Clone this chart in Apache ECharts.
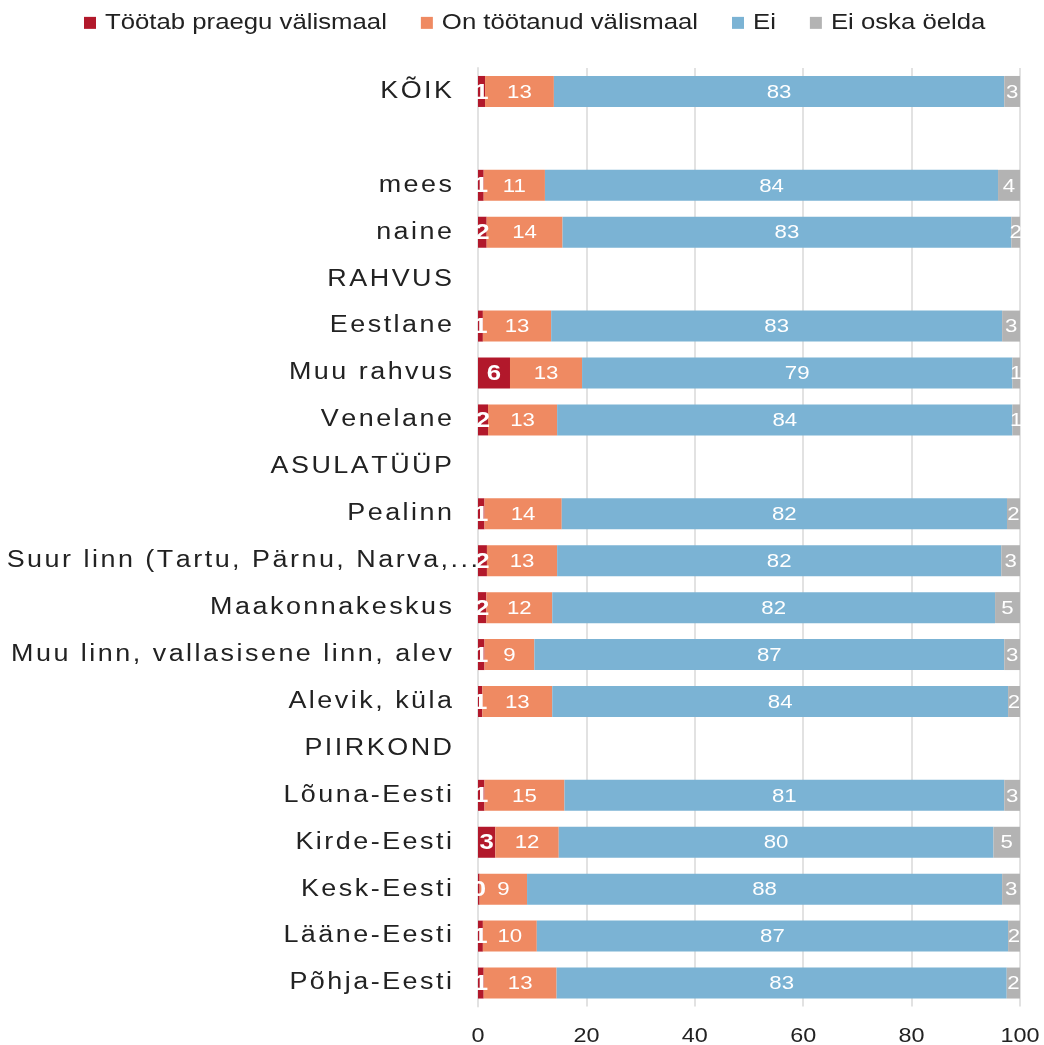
<!DOCTYPE html>
<html>
<head>
<meta charset="utf-8">
<script src="https://cdn.jsdelivr.net/npm/echarts@6/dist/echarts.min.js"></script>
<style>
html,body{margin:0;padding:0;background:#fff;}
#chart{width:1044px;height:1045px;}
</style>
</head>
<body>
<div id="chart"></div>
<script>
// ---------- data ----------
const categories = ['KÕIK', '', 'mees', 'naine', 'RAHVUS', 'Eestlane', 'Muu rahvus', 'Venelane',
  'ASULATÜÜP', 'Pealinn', 'Suur linn (Tartu, Pärnu, Narva,...', 'Maakonnakeskus',
  'Muu linn, vallasisene linn, alev', 'Alevik, küla', 'PIIRKOND', 'Lõuna-Eesti',
  'Kirde-Eesti', 'Kesk-Eesti', 'Lääne-Eesti', 'Põhja-Eesti'];
const seriesNames = ['Töötab praegu välismaal', 'On töötanud välismaal', 'Ei', 'Ei oska öelda'];
const tootabPraegu = [1.3, null, 1.05, 1.6, null, 0.9, 5.9, 1.85, null, 1.2, 1.65, 1.55, 1.2, 0.8, null, 1.2, 3.2, 0.3, 0.9, 1.05];
const onTootanud   = [12.7, null, 11.3, 14.0, null, 12.6, 13.3, 12.75, null, 14.25, 12.95, 12.15, 9.2, 12.9, null, 14.75, 11.7, 8.75, 9.95, 13.45];
const ei           = [83.1, null, 83.6, 82.8, null, 83.2, 79.4, 84.0, null, 82.15, 81.95, 81.7, 86.7, 84.1, null, 81.15, 80.2, 87.65, 86.95, 83.05];
const eiOska       = [2.9, null, 4.05, 1.6, null, 3.3, 1.4, 1.4, null, 2.4, 3.45, 4.6, 2.9, 2.2, null, 2.9, 4.9, 3.3, 2.2, 2.45];
const xTicks = [0, 20, 40, 60, 80, 100];
const colors = ['#B2182B', '#EF8A62', '#7BB3D4', '#B3B3B3'];

// ---------- typography emulation: horizontally wide text + letter-spaced category labels ----------
const SX = 1.17;
const LS = 2.5;
const SPACED = new Set(categories.filter(c => c));
const proto = CanvasRenderingContext2D.prototype;
const oFill = proto.fillText, oStroke = proto.strokeText, oMeasure = proto.measureText;
function drawText(ctx, fn, t, x, y) {
  t = String(t);
  ctx.save();
  ctx.translate(x, y);
  ctx.scale(SX, 1);
  if (SPACED.has(t)) {
    const chars = Array.from(t);
    const widths = chars.map(c => oMeasure.call(ctx, c).width);
    const sp = LS / SX;
    const total = widths.reduce((a, b) => a + b, 0) + sp * (chars.length - 1);
    const al = ctx.textAlign;
    let cx = (al === 'right' || al === 'end') ? -total : (al === 'center' ? -total / 2 : 0);
    ctx.textAlign = 'left';
    for (let i = 0; i < chars.length; i++) {
      fn.call(ctx, chars[i], cx, 0);
      cx += widths[i] + sp;
    }
  } else {
    fn.call(ctx, t, 0, 0);
  }
  ctx.restore();
}
proto.fillText = function (t, x, y) { drawText(this, oFill, t, x, y); };
proto.strokeText = function (t, x, y) { drawText(this, oStroke, t, x, y); };
proto.measureText = function (t) {
  const m = oMeasure.call(this, t);
  let w = m.width * SX;
  const s = String(t);
  if (SPACED.has(s)) w += LS * (Array.from(s).length - 1);
  return {
    width: w,
    actualBoundingBoxAscent: m.actualBoundingBoxAscent,
    actualBoundingBoxDescent: m.actualBoundingBoxDescent,
    actualBoundingBoxLeft: m.actualBoundingBoxLeft * SX,
    actualBoundingBoxRight: m.actualBoundingBoxRight * SX,
    fontBoundingBoxAscent: m.fontBoundingBoxAscent,
    fontBoundingBoxDescent: m.fontBoundingBoxDescent
  };
};

// ---------- chart ----------
const FONT = 'Liberation Sans';
const chart = echarts.init(document.getElementById('chart'), null, { renderer: 'canvas' });

function mkSeries(name, data, color, bold) {
  return {
    name: name,
    type: 'bar',
    stack: 'total',
    data: data,
    barWidth: 31,
    itemStyle: { color: color },
    label: {
      show: true,
      position: 'inside',
      offset: [0, 1],
      color: '#ffffff',
      fontFamily: FONT,
      fontSize: bold ? 22 : 19,
      fontWeight: bold ? 'bold' : 'normal',
      textBorderWidth: 0,
      formatter: p => (p.value == null ? '' : String(Math.round(p.value)))
    },
    emphasis: { disabled: true },
    animation: false
  };
}

const yData = categories.map(c => c === 'Suur linn (Tartu, Pärnu, Narva,...'
  ? { value: c, textStyle: { padding: [0, -26, 5, 0] } }
  : c);

chart.setOption({
  backgroundColor: '#ffffff',
  animation: false,
  textStyle: { fontFamily: FONT },
  legend: {
    data: seriesNames,
    left: 84,
    top: 10,
    padding: 0,
    icon: 'rect',
    itemWidth: 12,
    itemHeight: 12,
    itemGap: 34,
    textStyle: { fontFamily: FONT, fontSize: 22, color: '#222222', padding: [0, 0, 0, 4] },
    selectedMode: false
  },
  grid: { left: 478, right: 24, top: 68, bottom: 38.5, containLabel: false, outerBoundsMode: 'none' },
  xAxis: {
    type: 'value',
    min: xTicks[0],
    max: xTicks[xTicks.length - 1],
    interval: xTicks[1] - xTicks[0],
    axisLine: { show: false },
    axisTick: { show: false },
    axisLabel: { fontFamily: FONT, fontSize: 20, color: '#222222', margin: 18 },
    splitLine: { show: true, lineStyle: { color: '#e2e2e2', width: 2 } }
  },
  yAxis: {
    type: 'category',
    inverse: true,
    data: yData,
    axisLine: { show: true, lineStyle: { color: '#e2e2e2', width: 2 } },
    axisTick: { show: false },
    axisLabel: { interval: 0, fontFamily: FONT, fontSize: 23, color: '#222222', margin: 26, padding: [0, 0, 5, 0] },
    splitLine: { show: false }
  },
  series: [
    mkSeries(seriesNames[0], tootabPraegu, colors[0], true),
    mkSeries(seriesNames[1], onTootanud, colors[1], false),
    mkSeries(seriesNames[2], ei, colors[2], false),
    mkSeries(seriesNames[3], eiOska, colors[3], false)
  ]
});
</script>
</body>
</html>
